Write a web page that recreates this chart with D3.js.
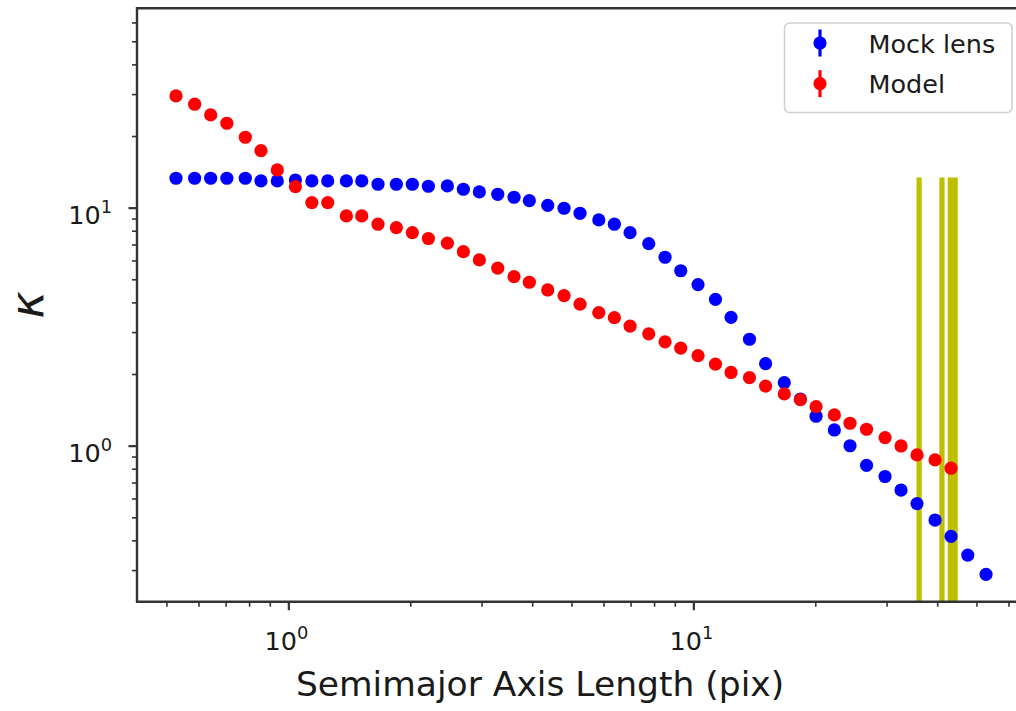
<!DOCTYPE html>
<html>
<head>
<meta charset="utf-8">
<script src="https://cdn.jsdelivr.net/npm/d3@7"></script>
<style>
  html, body { margin: 0; padding: 0; background: #fff; }
  svg { display: block; font-family: "DejaVu Sans", sans-serif; }
</style>
</head>
<body>
<svg id="chart" width="1016" height="711"></svg>
<script>
// Semimajor axis of each fitted isophote (pix)
const semimajor = [
  0.528, 0.587, 0.643, 0.705, 0.783, 0.856, 0.939, 1.041, 1.143, 1.251,
  1.391, 1.518, 1.665, 1.848, 2.024, 2.217, 2.470, 2.705, 2.962, 3.289,
  3.608, 3.936, 4.370, 4.795, 5.251, 5.841, 6.382, 6.979, 7.760, 8.514,
  9.309, 10.27, 11.34, 12.39, 13.76, 15.08, 16.77, 18.38, 20.09, 22.29,
  24.37, 26.77, 29.74, 32.57, 35.67, 39.52, 43.28, 47.60, 52.81
];

// Convergence profile of the mock lens
const mockLens = [
  13.29, 13.29, 13.29, 13.29, 13.29, 12.95, 12.95, 13.07, 12.95, 12.95,
  12.95, 12.95, 12.54, 12.54, 12.54, 12.30, 12.34, 11.95, 11.64, 11.38,
  11.06, 10.70, 10.23, 9.94, 9.47, 8.88, 8.52, 7.85, 7.06, 6.19,
  5.43, 4.75, 4.12, 3.46, 2.80, 2.21, 1.84, 1.57, 1.329, 1.164,
  0.999, 0.827, 0.742, 0.651, 0.571, 0.487, 0.416, 0.347, 0.288
];

// Convergence profile of the fitted model
const model = [
  29.47, 27.20, 24.52, 22.63, 19.76, 17.36, 14.40, 12.25, 10.50, 10.50,
  9.23, 9.23, 8.52, 8.24, 7.85, 7.42, 7.09, 6.53, 6.03, 5.57,
  5.13, 4.86, 4.51, 4.27, 3.93, 3.62, 3.45, 3.18, 2.95, 2.73,
  2.57, 2.39, 2.20, 2.03, 1.93, 1.78, 1.65, 1.56, 1.458, 1.346,
  1.242, 1.172, 1.080, 0.997, 0.914, 0.871, 0.804
];

// Vertical markers (pix) and their common height
const markerRadii = [36.1, 41.1, 43.1, 44.3];
const markerTop = 13.4;

// Axis extents and ticks
const xDomain = [0.423, 65.9];
const yDomain = [0.221, 68.8];
const xMajor = [1, 10];
const xMinor = [0.5, 0.6, 0.7, 0.8, 0.9, 2, 3, 4, 5, 6, 7, 8, 9, 20, 30, 40, 50, 60];
const yMajor = [1, 10];
const yMinor = [0.3, 0.4, 0.5, 0.6, 0.7, 0.8, 0.9, 2, 3, 4, 5, 6, 7, 8, 9, 20, 30, 40, 50, 60];
const tickExponent = { 1: "0", 10: "1" };

const seriesNames = ["Mock lens", "Model"];
const seriesColors = ["#0000ff", "#ff0000"];

const svg = d3.select("#chart");
const plot = { left: 137, right: 1025, top: 8.3, bottom: 601.7 };

const x = d3.scaleLog().domain(xDomain).range([plot.left, plot.right]);
const y = d3.scaleLog().domain(yDomain).range([plot.bottom, plot.top]);

const axisColor = "#333";
const textColor = "#1a1a1a";
const tickFont = 25.5;

// Vertical markers
svg.append("g")
  .selectAll("line")
  .data(markerRadii)
  .join("line")
  .attr("x1", d => x(d)).attr("x2", d => x(d))
  .attr("y1", y(yDomain[0])).attr("y2", y(markerTop))
  .attr("stroke", "#bfbf00")
  .attr("stroke-width", 5.2);

// Data points
const pointR = 6.6;
[mockLens, model].forEach((vals, i) => {
  svg.append("g")
    .selectAll("circle")
    .data(vals)
    .join("circle")
    .attr("cx", (d, j) => x(semimajor[j]))
    .attr("cy", d => y(d))
    .attr("r", pointR)
    .attr("fill", seriesColors[i]);
});

// Axes
function styleAxis(g) {
  g.select(".domain").remove();
  g.selectAll("line").attr("stroke", axisColor);
}

const xAxisMinor = d3.axisBottom(x).tickValues(xMinor).tickSize(5).tickFormat("");
const xAxisMajor = d3.axisBottom(x).tickValues(xMajor).tickSize(8.5).tickFormat("");
const yAxisMinor = d3.axisLeft(y).tickValues(yMinor).tickSize(5).tickFormat("");
const yAxisMajor = d3.axisLeft(y).tickValues(yMajor).tickSize(8.5).tickFormat("");

svg.append("g").attr("transform", `translate(0,${plot.bottom})`).call(xAxisMinor).call(styleAxis)
  .selectAll("line").attr("stroke-width", 1.6);
svg.append("g").attr("transform", `translate(0,${plot.bottom})`).call(xAxisMajor).call(styleAxis)
  .selectAll("line").attr("stroke-width", 2.2);
svg.append("g").attr("transform", `translate(${plot.left},0)`).call(yAxisMinor).call(styleAxis)
  .selectAll("line").attr("stroke-width", 1.6);
svg.append("g").attr("transform", `translate(${plot.left},0)`).call(yAxisMajor).call(styleAxis)
  .selectAll("line").attr("stroke-width", 2.2);

// Spines (left, bottom, top)
const spine = svg.append("g").attr("stroke", axisColor).attr("stroke-width", 2.4).attr("fill", "none");
spine.append("path").attr("d",
  `M${plot.right},${plot.top} L${plot.left},${plot.top} L${plot.left},${plot.bottom} L${plot.right},${plot.bottom}`);

// Tick labels written as powers of ten
function powerLabel(sel, v) {
  sel.append("tspan").text("10");
  sel.append("tspan").attr("font-size", tickFont * 0.7).attr("dy", -11).text(tickExponent[v]);
}
svg.append("g").selectAll("text").data(xMajor).join("text")
  .attr("x", d => x(d) - 2).attr("y", 650)
  .attr("text-anchor", "middle").attr("font-size", tickFont).attr("fill", textColor)
  .each(function (d) { powerLabel(d3.select(this), d); });
svg.append("g").selectAll("text").data(yMajor).join("text")
  .attr("x", 112).attr("y", d => y(d) + 16)
  .attr("text-anchor", "end").attr("font-size", tickFont).attr("fill", textColor)
  .each(function (d) { powerLabel(d3.select(this), d); });

// Axis titles
svg.append("text")
  .attr("x", 540).attr("y", 696)
  .attr("text-anchor", "middle").attr("font-size", 34.5).attr("fill", textColor)
  .text("Semimajor Axis Length (pix)");
svg.append("text")
  .attr("transform", "translate(43,305) rotate(-90)")
  .attr("text-anchor", "middle").attr("font-size", 46).attr("font-style", "italic").attr("fill", textColor)
  .text("κ");

// Legend
const legend = svg.append("g");
legend.append("rect")
  .attr("x", 784.5).attr("y", 23).attr("width", 227.5).attr("height", 89.5)
  .attr("rx", 5).attr("fill", "#fff").attr("fill-opacity", 0.8)
  .attr("stroke", "#d0d0d0").attr("stroke-width", 1.6);
seriesNames.forEach((name, i) => {
  const cy = 43 + i * 40.7;
  const g = legend.append("g");
  g.append("line").attr("x1", 820).attr("x2", 820).attr("y1", cy - 13.5).attr("y2", cy + 13.5)
    .attr("stroke", seriesColors[i]).attr("stroke-width", 3.2);
  g.append("circle").attr("cx", 820).attr("cy", cy).attr("r", pointR).attr("fill", seriesColors[i]);
  g.append("text").attr("x", 868.5).attr("y", cy + 9.5)
    .attr("font-size", tickFont).attr("fill", textColor).text(name);
});
</script>
</body>
</html>
